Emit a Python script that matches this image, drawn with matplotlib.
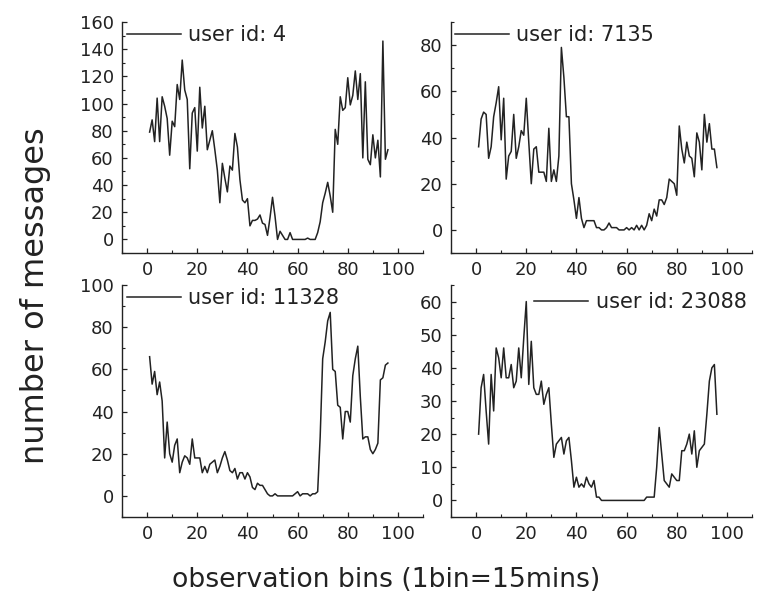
import matplotlib
matplotlib.use('Agg')
import matplotlib.pyplot as plt
from matplotlib.ticker import MultipleLocator
import numpy as np

# message counts per 15-minute bin (bins 1..96)
bins = np.arange(1, 97)

user_4 = [79, 88, 72, 104, 72, 105, 98, 89, 62, 87, 83, 114, 103, 132, 110, 103,
          52, 93, 97, 65, 112, 82, 98, 66, 73, 80, 66, 51, 27, 56, 45, 35,
          54, 51, 78, 68, 44, 29, 27, 30, 10, 14, 14, 15, 18, 12, 11, 3,
          16, 31, 17, 0, 6, 3, 0, 0, 5, 0, 0, 0, 0, 0, 0, 1,
          0, 0, 0, 5, 13, 27, 34, 42, 32, 20, 81, 70, 105, 95, 97, 119,
          99, 106, 124, 103, 122, 60, 116, 59, 55, 77, 60, 73, 46, 146, 59, 66]

user_7135 = [36, 48, 51, 50, 31, 36, 49, 55, 62, 39, 57, 22, 32, 34, 50, 31,
             36, 43, 41, 57, 38, 20, 35, 36, 25, 25, 25, 21, 44, 21, 26, 21,
             32, 79, 66, 49, 49, 20, 13, 5, 14, 5, 1, 4, 4, 4, 4, 1,
             1, 0, 0, 1, 3, 1, 1, 1, 0, 0, 0, 1, 0, 1, 0, 2,
             0, 2, 0, 2, 7, 4, 9, 6, 13, 13, 11, 14, 22, 21, 20, 15,
             45, 35, 29, 38, 32, 31, 23, 42, 38, 26, 50, 38, 46, 35, 35, 27]

user_11328 = [66, 53, 59, 48, 54, 45, 18, 35, 20, 16, 24, 27, 11, 16, 19, 18,
              15, 27, 18, 18, 18, 11, 14, 11, 15, 16, 17, 11, 14, 18, 21, 17,
              12, 11, 13, 8, 11, 11, 8, 11, 9, 4, 3, 6, 5, 5, 3, 1,
              0, 0, 1, 0, 0, 0, 0, 0, 0, 0, 1, 2, 0, 1, 1, 1,
              0, 1, 1, 2, 28, 65, 73, 83, 87, 60, 59, 43, 42, 27, 40, 40,
              35, 57, 65, 71, 47, 27, 28, 28, 22, 20, 22, 25, 55, 56, 62, 63]

user_23088 = [20, 34, 38, 27, 17, 38, 27, 46, 43, 37, 46, 37, 37, 41, 34, 36,
              46, 37, 49, 60, 35, 48, 34, 32, 32, 36, 29, 32, 34, 23, 13, 17,
              18, 19, 14, 18, 19, 12, 4, 7, 4, 5, 4, 7, 5, 4, 6, 1,
              1, 0, 0, 0, 0, 0, 0, 0, 0, 0, 0, 0, 0, 0, 0, 0,
              0, 0, 0, 1, 1, 1, 1, 10, 22, 14, 6, 5, 4, 8, 7, 6,
              6, 15, 15, 17, 20, 14, 21, 10, 15, 16, 17, 26, 36, 40, 41, 26]

labels = ['user id: 4', 'user id: 7135', 'user id: 11328', 'user id: 23088']

fig = plt.figure(figsize=(7.57, 5.92), dpi=100)

ink = '#222222'
# left, bottom, width, height in figure fraction
positions = [
    [0.1612, 0.5726, 0.3976, 0.3902],
    [0.5958, 0.5726, 0.3976, 0.3902],
    [0.1612, 0.1267, 0.3976, 0.3919],
    [0.5958, 0.1267, 0.3976, 0.3919],
]
ylims = [(-10, 160), (-10, 90), (-10, 100), (-5, 65)]
ymajor = [20, 20, 20, 10]
legend_at = [(0.0166, 0.944), (0.013, 0.944), (0.0166, 0.944), (0.276, 0.927)]

for i, series in enumerate([user_4, user_7135, user_11328, user_23088]):
    ax = fig.add_axes(positions[i])
    ax.plot(bins, series, color=ink, lw=1.1, label=labels[i])
    ax.set_xlim(-10, 110)
    ax.set_ylim(*ylims[i])
    ax.xaxis.set_major_locator(MultipleLocator(20))
    ax.xaxis.set_minor_locator(MultipleLocator(10))
    ax.yaxis.set_major_locator(MultipleLocator(ymajor[i]))
    ax.yaxis.set_minor_locator(MultipleLocator(ymajor[i] / 2))
    for s in ['top', 'right']:
        ax.spines[s].set_visible(False)
    for s in ['left', 'bottom']:
        ax.spines[s].set_color(ink)
        ax.spines[s].set_linewidth(1.0)
    ax.tick_params(which='major', direction='in', length=3.6, width=0.9,
                   color=ink, labelsize=13, labelcolor=ink, pad=6)
    ax.tick_params(which='minor', direction='in', length=2.2, width=0.8, color=ink)
    # keep tick labels inside the visible range only
    yt = [t for t in ax.get_yticks() if ylims[i][0] < t <= ylims[i][1]]
    ax.set_yticks(yt)
    ax.set_xticks([0, 20, 40, 60, 80, 100])
    ax.legend(loc='center left', bbox_to_anchor=legend_at[i], frameon=False,
              fontsize=15, handlelength=2.6, handletextpad=0.35,
              borderpad=0, borderaxespad=0, labelcolor=ink)

fig.text(0.047, 0.5, 'number of messages', rotation=90, ha='center',
         va='center', fontsize=23, color=ink)
fig.text(0.51, 1 - 587 / 592, 'observation bins (1bin=15mins)', ha='center',
         va='baseline', fontsize=19.2, color=ink)

fig.savefig('out.png', dpi=100)
